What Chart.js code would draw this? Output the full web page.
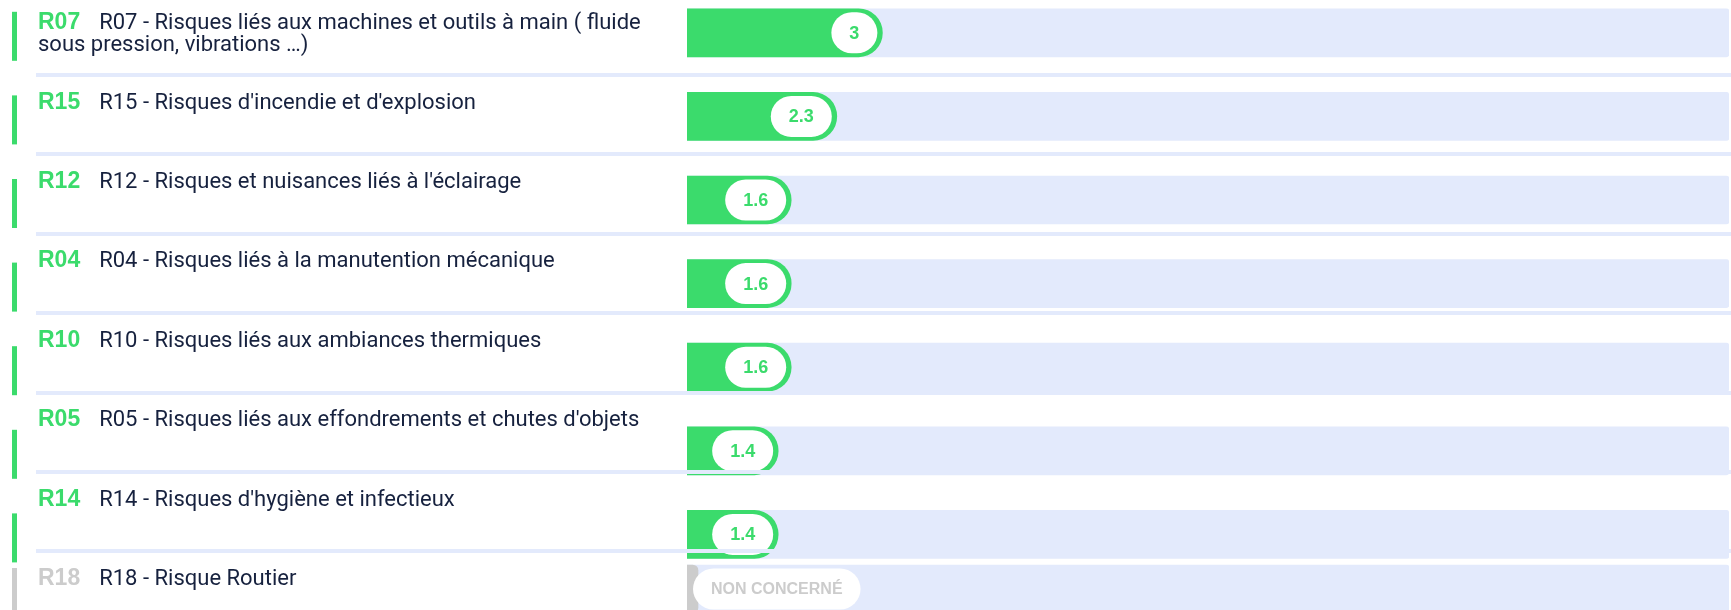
<!DOCTYPE html>
<html lang="fr">
<head>
<meta charset="utf-8">
<title>Risques</title>
<script src="https://cdn.jsdelivr.net/npm/chart.js@4.4.1/dist/chart.umd.min.js"></script>
<style>

    html,
    body {
        margin: 0;
        padding: 0;
        background: #ffffff;
    }

    body {
        position: relative;
        width: 1731px;
        height: 610px;
        overflow: hidden;
    }

    .chartBox {
        position: absolute;
        left: 0;
        width: 1731px;
    }

    #concernedBox {
        top: -8.8px;
        height: 585.2px;
    }

    #otherBox {
        top: 549px;
        height: 80px;
    }

    #rows {
        position: absolute;
        left: 36px;
        top: -2.4px;
        width: 1695px;
        pointer-events: none;
    }

    .row {
        box-sizing: border-box;
        height: 79.4px;
        border-bottom: 4px solid #e3eafc;
        padding: 13.6px 0 0 2px;
    }

    .label {
        width: 632px;
        font-family: "Roboto", sans-serif;
        font-size: 22px;
        line-height: 21.7px;
        color: #16213e;
    }

    .code {
        font-family: "Liberation Sans", Arial, sans-serif;
        font-size: 23px;
        font-weight: bold;
        color: #3bdb6c;
        margin-right: 19px;
    }

    .code.off {
        color: #cccccc;
    }

</style>
</head>
<body>

<div class="chartBox" id="concernedBox">
    <canvas id="concernedChart"></canvas>
</div>

<div class="chartBox" id="otherBox">
    <canvas id="otherChart"></canvas>
</div>

<div id="rows"></div>

<script>

// ======================================================
// Data
// ======================================================

const codes = [
    "R07", "R15", "R12", "R04",
    "R10", "R05", "R14", "R18"
];

const descriptions = [
    "R07 - Risques liés aux machines et outils à main ( fluide sous pression, vibrations …)",
    "R15 - Risques d'incendie et d'explosion",
    "R12 - Risques et nuisances liés à l'éclairage",
    "R04 - Risques liés à la manutention mécanique",
    "R10 - Risques liés aux ambiances thermiques",
    "R05 - Risques liés aux effondrements et chutes d'objets",
    "R14 - Risques d'hygiène et infectieux",
    "R18 - Risque Routier"
];

// null = non concerné
const scores = [3, 2.3, 1.6, 1.6, 1.6, 1.4, 1.4, null];

const scaleMax = 16;

const notConcernedText = "NON CONCERNÉ";

// ======================================================
// Colors
// ======================================================

const green = "#3bdb6c";
const grey = "#cccccc";
const track = "#e3eafc";

// ======================================================
// Labels (HTML)
// ======================================================

const rows = document.getElementById("rows");

codes.forEach((code, i) => {

    const row = document.createElement("div");
    row.className = "row";

    const label = document.createElement("div");
    label.className = "label";

    const codeSpan = document.createElement("span");
    codeSpan.className = scores[i] === null ? "code off" : "code";
    codeSpan.textContent = code;

    label.appendChild(codeSpan);
    label.appendChild(document.createTextNode(descriptions[i]));

    row.appendChild(label);
    rows.appendChild(row);
});

// ======================================================
// Plugin: accents + pills
// ======================================================

const pillPlugin = {

    id: "pills",

    afterDatasetsDraw(chart) {

        const ctx = chart.ctx;
        const meta = chart.getDatasetMeta(0);
        const values = chart.data.datasets[0].scores;

        meta.data.forEach((bar, i) => {

            const off = values[i] === null;

            // left accent
            ctx.fillStyle = off ? grey : green;
            ctx.fillRect(12, bar.y - 21, 5, 49);

            // pill
            const text = off ? notConcernedText : String(values[i]);

            ctx.font = off
                ? "bold 16px 'Liberation Sans', Arial, sans-serif"
                : "bold 18px 'Liberation Sans', Arial, sans-serif";

            const w = Math.max(ctx.measureText(text).width + 36, 46);
            const h = 41;

            const x = off ? bar.base + 6 : bar.x - 5 - w;
            const y = bar.y - h / 2;

            ctx.fillStyle = "#ffffff";
            ctx.beginPath();
            ctx.roundRect(x, y, w, h, h / 2);
            ctx.fill();

            ctx.fillStyle = off ? grey : green;
            ctx.textAlign = "center";
            ctx.textBaseline = "middle";
            ctx.fillText(text, x + w / 2, bar.y + 1);
        });
    }
};

// ======================================================
// Create Chart
// ======================================================

function createChart(canvasId, indices) {

    const values = indices.map(i => scores[i]);

    return new Chart(
        document.getElementById(canvasId),
        {
            type: "bar",

            data: {
                labels: indices.map(i => codes[i]),
                datasets: [
                    {
                        data: values.map(v => v ?? 0),
                        scores: values,
                        backgroundColor: values.map(v => v === null ? grey : green),
                        barThickness: 48,
                        borderRadius: 24,
                        minBarLength: 11,
                        grouped: false,
                        order: 1
                    },
                    {
                        data: values.map(() => scaleMax),
                        backgroundColor: track,
                        barThickness: 48,
                        borderRadius: 3,
                        grouped: false,
                        order: 2
                    }
                ]
            },

            options: {

                indexAxis: "y",

                responsive: true,

                maintainAspectRatio: false,

                animation: false,

                layout: {
                    padding: {
                        left: 687,
                        right: 2,
                        top: 0,
                        bottom: 0
                    }
                },

                plugins: {
                    legend: { display: false },
                    tooltip: { enabled: false }
                },

                scales: {
                    x: {
                        min: 0,
                        max: scaleMax,
                        display: false
                    },
                    y: {
                        display: false
                    }
                }
            },

            plugins: [pillPlugin]
        }
    );
}

// ======================================================
// Initialize
// ======================================================

const concerned = codes
    .map((c, i) => i)
    .filter(i => scores[i] !== null);

const notConcerned = codes
    .map((c, i) => i)
    .filter(i => scores[i] === null);

createChart("concernedChart", concerned);

createChart("otherChart", notConcerned);

</script>
</body>
</html>
